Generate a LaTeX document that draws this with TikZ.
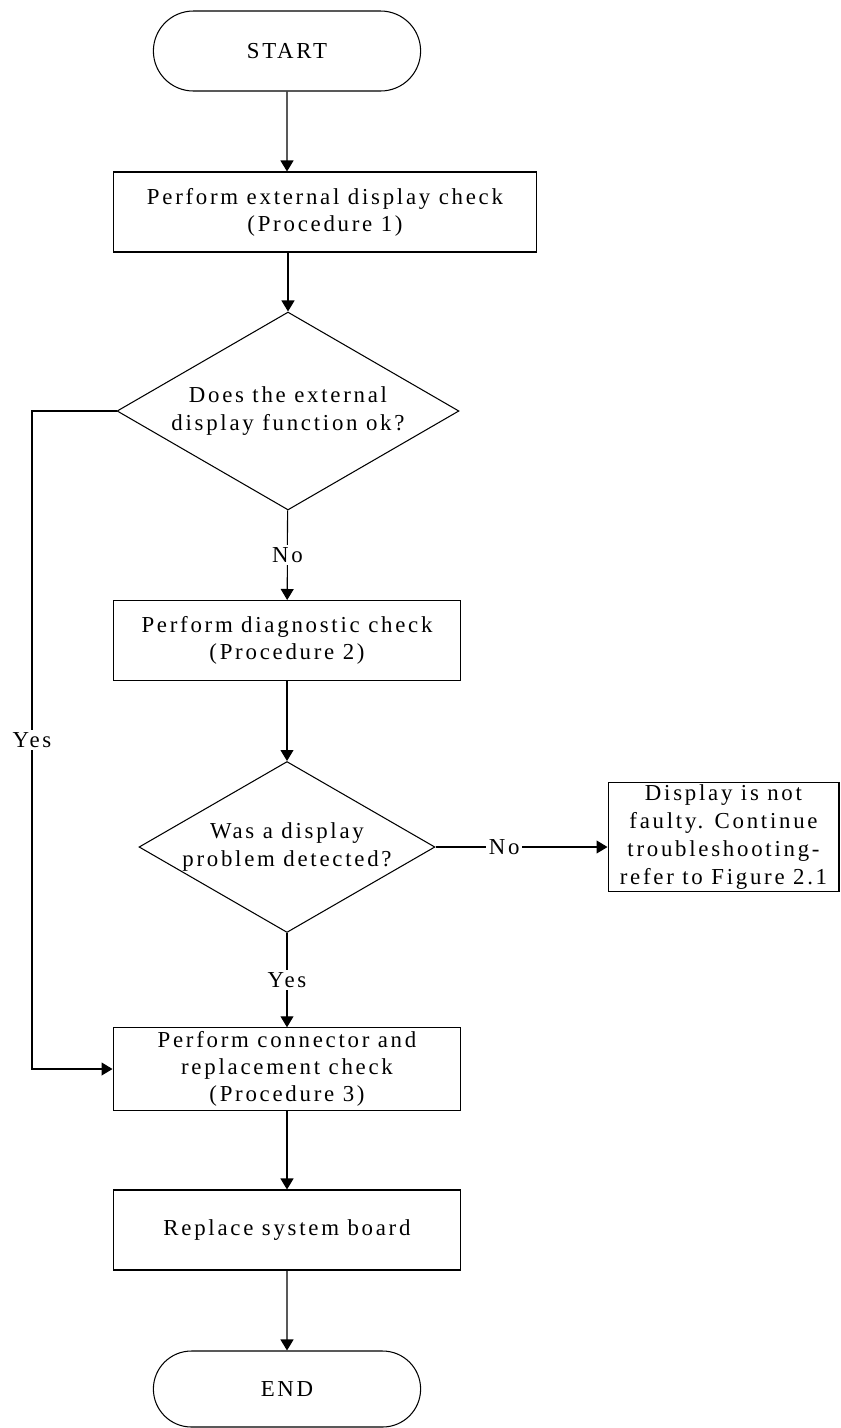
\documentclass[tikz,border=0pt]{standalone}
\usepackage{fontspec}
\setmainfont{Liberation Serif}[LetterSpace=12]
\usetikzlibrary{shapes.geometric,shapes.misc,arrows.meta}
\tikzset{
  proc/.style={draw,rectangle,align=center,minimum width=6.96cm,minimum height=1.6cm,inner sep=2pt},
  decision/.style={draw,diamond,aspect=1.73,align=center,inner sep=0pt},
  term/.style={draw,rounded rectangle,minimum width=5.58cm,minimum height=1.6cm},
  lbl/.style={fill=white,inner sep=1.5pt}
}
\begin{document}
\begin{tikzpicture}[>={Triangle[length=0.22cm,width=0.26cm]},x=0.02cm,y=-0.02cm,line width=0.6pt,font=\fontsize{13}{15.5}\selectfont]
	\useasboundingbox (0,0) rectangle (841,1428);
	% nodes
	\node[term] (start) at (287,51) {START};
	\node[proc,minimum width=8.48cm] (extchk) at (325,212) {Perform external display check\\(Procedure 1)};
	\node[decision,minimum width=6.84cm,minimum height=3.96cm] (extok) at (288,411) {Does the external\\display function ok?};
	\node[proc] (diagchk) at (287,640.5) {Perform diagnostic check\\(Procedure 2)};
	\node[decision,minimum width=5.92cm,minimum height=3.42cm] (dispprob) at (287,847) {Was a display\\problem detected?};
	\node[proc,minimum width=4.62cm,minimum height=1.96cm,inner sep=1pt,font=\fontsize{13}{16}\selectfont] (notfaulty) at (723.5,837) {Display is not\\faulty. Continue\\troubleshooting-\\refer to Figure 2.1};
	\node[proc] (conchk) at (287,1069) {Perform connector and\\replacement check\\(Procedure 3)};
	\node[proc] (replace) at (287,1230) {Replace system board};
	\node[term,minimum height=1.52cm] (end) at (287,1389) {END};
	\coordinate (yesturn) at (32,411);
	% connectors
	\draw[->] (start) -- (start |- extchk.north);
	\draw[->] (extchk.south -| extok) -- (extok);
	\draw[->] (extok) -- node[lbl]{No} (diagchk);
	\draw[->] (diagchk) -- (dispprob);
	\draw[->] (dispprob.east) -- node[lbl,pos=0.4]{No} (dispprob.east -| notfaulty.west);
	\draw[->] (dispprob) -- node[lbl]{Yes} (conchk);
	\draw[->] (extok.west) -- (yesturn) -- node[lbl]{Yes} (yesturn |- conchk.west) -- (conchk.west);
	\draw[->] (conchk) -- (replace);
	\draw[->] (replace) -- (end);
\end{tikzpicture}
\end{document}
